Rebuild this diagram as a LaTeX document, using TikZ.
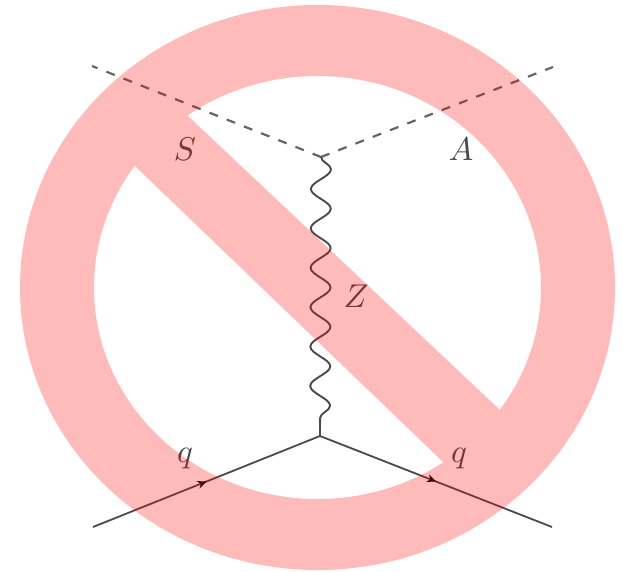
\documentclass[tikz,border=0pt]{standalone}
\usetikzlibrary{decorations.pathmorphing,decorations.markings,arrows.meta}
\definecolor{inkc}{HTML}{4A4A4A}
\tikzset{
  scalar/.style={draw=inkc!85,line width=2.2pt,dash pattern=on 9pt off 9.5pt},
  fermion/.style={draw=inkc,line width=1.8pt,postaction={decorate},decoration={markings,mark=at position .5 with {\arrow[black]{Stealth[length=9pt,width=8pt]}}}},
  boson/.style={draw=inkc,line width=1.9pt,decorate,decoration={snake,segment length=39.4pt,amplitude=10pt}},
  lbl/.style={inner sep=0pt,text=inkc},
  prohib/.style={fill=red,draw=none},
}
\newcommand{\biglbl}[1]{\scalebox{3.3}{$#1$}}
\begin{document}
\begin{tikzpicture}[x=1pt,y=-1pt]
\useasboundingbox (0,0) rectangle (623,572);
\coordinate (top) at (321,157);
\coordinate (bot) at (320,436);
\coordinate (sEnd) at (92,66);
\coordinate (aEnd) at (553,67);
\coordinate (qL) at (93,527);
\coordinate (qR) at (552,527);
\draw[scalar] (top) -- (sEnd);
\draw[scalar] (top) -- (aEnd);
\draw[boson] (top) -- (bot);
\draw[fermion] (qL) -- (bot);
\draw[fermion] (bot) -- (qR);
\node[lbl] (S) at (185,149) {\biglbl{S}};
\node[lbl] (A) at (461,149) {\biglbl{A}};
\node[lbl] (Z) at (356,296) {\biglbl{Z}};
\node[lbl] (q1) at (185,459) {\biglbl{q}};
\node[lbl] (q2) at (459,459) {\biglbl{q}};
\begin{scope}[transparency group,opacity=.27]
\fill[prohib,even odd rule] (317.5,287.5) ellipse [x radius=297.5,y radius=282.5]
  (317.5,287.5) ellipse [x radius=223.5,y radius=211.5];
\begin{scope}
\clip (317.5,287.5) ellipse [x radius=240,y radius=228];
\fill[prohib] (150,80.2) -- (540,447.7) -- (490,507) -- (100,132.4) -- cycle;
\end{scope}
\end{scope}
\end{tikzpicture}
\end{document}
